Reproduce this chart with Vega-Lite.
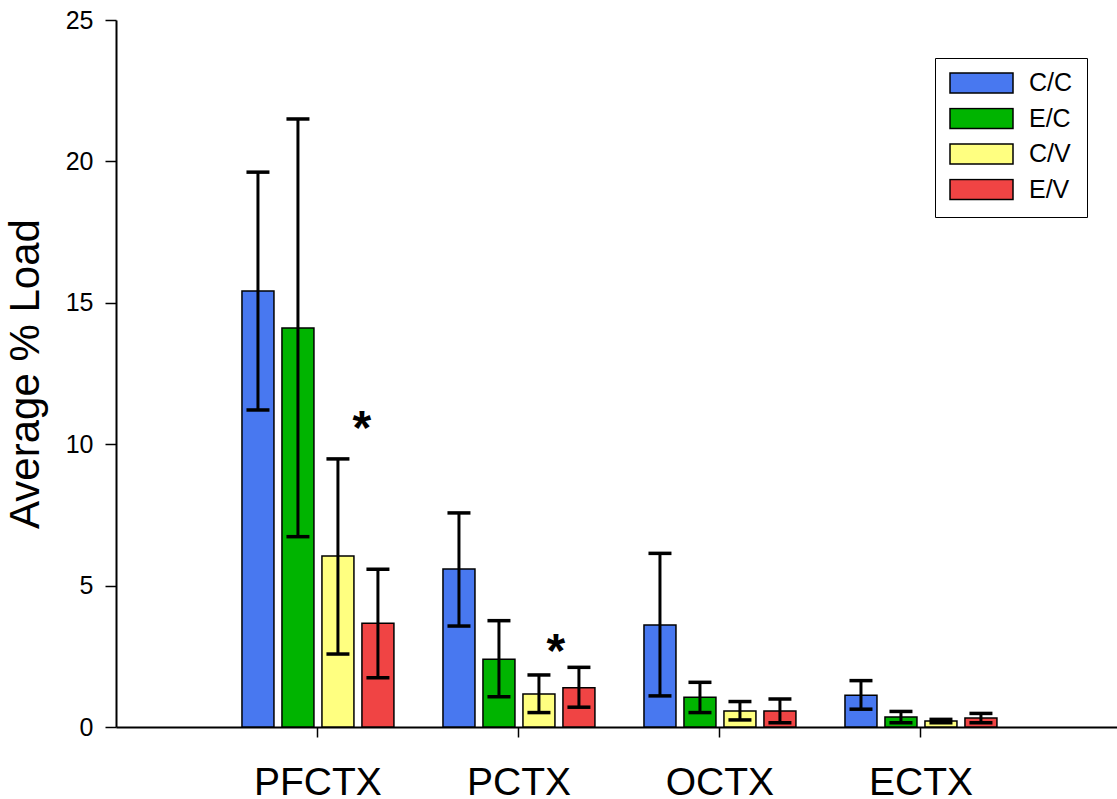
{
  "$schema": "https://vega.github.io/schema/vega-lite/v6.json",
  "width": 1001,
  "height": 707,
  "autosize": {"type": "none"},
  "padding": {"left": 116, "top": 20, "right": 0, "bottom": 72},
  "background": "white",
  "datasets": {
    "bars": [
      {"region": "PFCTX", "group": "C/C", "load": 15.42, "lo": 11.21, "hi": 19.62},
      {"region": "PFCTX", "group": "E/C", "load": 14.11, "lo": 6.73, "hi": 21.5},
      {"region": "PFCTX", "group": "C/V", "load": 6.05, "lo": 2.58, "hi": 9.48},
      {"region": "PFCTX", "group": "E/V", "load": 3.67, "lo": 1.74, "hi": 5.58},
      {"region": "PCTX", "group": "C/C", "load": 5.59, "lo": 3.57, "hi": 7.57},
      {"region": "PCTX", "group": "E/C", "load": 2.4, "lo": 1.07, "hi": 3.76},
      {"region": "PCTX", "group": "C/V", "load": 1.17, "lo": 0.51, "hi": 1.84},
      {"region": "PCTX", "group": "E/V", "load": 1.39, "lo": 0.7, "hi": 2.11},
      {"region": "OCTX", "group": "C/C", "load": 3.61, "lo": 1.1, "hi": 6.14},
      {"region": "OCTX", "group": "E/C", "load": 1.05, "lo": 0.51, "hi": 1.58},
      {"region": "OCTX", "group": "C/V", "load": 0.57, "lo": 0.25, "hi": 0.9},
      {"region": "OCTX", "group": "E/V", "load": 0.57, "lo": 0.15, "hi": 0.99},
      {"region": "ECTX", "group": "C/C", "load": 1.12, "lo": 0.63, "hi": 1.64},
      {"region": "ECTX", "group": "E/C", "load": 0.35, "lo": 0.15, "hi": 0.55},
      {"region": "ECTX", "group": "C/V", "load": 0.21, "lo": 0.15, "hi": 0.27},
      {"region": "ECTX", "group": "E/V", "load": 0.32, "lo": 0.15, "hi": 0.48}
    ],
    "stars": [
      {"region": "PFCTX", "group": "E/V", "pos": 10.02, "mark": "*"},
      {"region": "PCTX", "group": "E/V", "pos": 2.12, "mark": "*"}
    ]
  },
  "encoding": {
    "x": {
      "field": "region",
      "type": "nominal",
      "sort": ["PFCTX", "PCTX", "OCTX", "ECTX"],
      "scale": {"paddingInner": 0.244, "paddingOuter": 0.612, "align": 0.512},
      "axis": {
        "title": null,
        "labelAngle": 0,
        "labelFont": "Liberation Sans",
        "labelFontSize": 39,
        "labelColor": "black",
        "labelPadding": 26,
        "tickSize": 10,
        "tickWidth": 1.5,
        "tickColor": "black",
        "domainColor": "black",
        "domainWidth": 2
      }
    },
    "xOffset": {
      "field": "group",
      "type": "nominal",
      "sort": ["C/C", "E/C", "C/V", "E/V"],
      "scale": {"paddingInner": 0.2, "paddingOuter": 0}
    }
  },
  "layer": [
    {
      "data": {"name": "bars"},
      "mark": {"type": "bar", "stroke": "black", "strokeWidth": 1.5},
      "encoding": {
        "y": {
          "field": "load",
          "type": "quantitative",
          "scale": {"domain": [0, 25], "nice": false},
          "axis": {
            "title": "Average % Load",
            "values": [0, 5, 10, 15, 20, 25],
            "grid": false,
            "labelFont": "Liberation Sans",
            "labelFontSize": 25,
            "labelColor": "black",
            "labelPadding": 12,
            "tickSize": 11,
            "tickWidth": 1.5,
            "tickColor": "black",
            "domainColor": "black",
            "domainWidth": 2,
            "titleFont": "Liberation Sans",
            "titleFontSize": 42,
            "titleFontWeight": "normal",
            "titleColor": "black",
            "titlePadding": 18
          }
        },
        "color": {
          "field": "group",
          "type": "nominal",
          "sort": ["C/C", "E/C", "C/V", "E/V"],
          "scale": {
            "domain": ["C/C", "E/C", "C/V", "E/V"],
            "range": ["#4878F0", "#00B400", "#FFFF80", "#F04444"]
          },
          "legend": {
            "title": null,
            "orient": "none",
            "legendX": 819,
            "legendY": 38,
            "strokeColor": "black",
            "padding": 14,
            "symbolType": "M-1,-0.32H1V0.32H-1Z",
            "symbolSize": 3969,
            "symbolStrokeColor": "black",
            "symbolStrokeWidth": 1.5,
            "symbolOpacity": 1,
            "labelFont": "Liberation Sans",
            "labelFontSize": 25,
            "labelColor": "black",
            "labelOffset": 15,
            "rowPadding": 10.5,
            "clipHeight": 22
          }
        }
      }
    },
    {
      "data": {"name": "bars"},
      "mark": {"type": "rule", "color": "black", "strokeWidth": 3},
      "encoding": {
        "y": {"field": "lo", "type": "quantitative"},
        "y2": {"field": "hi"}
      }
    },
    {
      "data": {"name": "bars"},
      "mark": {"type": "tick", "color": "black", "size": 23, "thickness": 3.5, "opacity": 1},
      "encoding": {
        "y": {"field": "lo", "type": "quantitative"}
      }
    },
    {
      "data": {"name": "bars"},
      "mark": {"type": "tick", "color": "black", "size": 23, "thickness": 3.5, "opacity": 1},
      "encoding": {
        "y": {"field": "hi", "type": "quantitative"}
      }
    },
    {
      "data": {"name": "stars"},
      "transform": [{"filter": "datum.region === 'PFCTX'"}],
      "mark": {"type": "text", "font": "Liberation Sans", "fontSize": 48, "fontWeight": "bold", "color": "black", "baseline": "alphabetic", "dx": -16},
      "encoding": {
        "y": {"field": "pos", "type": "quantitative"},
        "text": {"field": "mark"}
      }
    },
    {
      "data": {"name": "stars"},
      "transform": [{"filter": "datum.region === 'PCTX'"}],
      "mark": {"type": "text", "font": "Liberation Sans", "fontSize": 48, "fontWeight": "bold", "color": "black", "baseline": "alphabetic", "dx": -23},
      "encoding": {
        "y": {"field": "pos", "type": "quantitative"},
        "text": {"field": "mark"}
      }
    }
  ],
  "config": {
    "view": {"stroke": null},
    "axis": {"labelFontWeight": "normal"}
  }
}
